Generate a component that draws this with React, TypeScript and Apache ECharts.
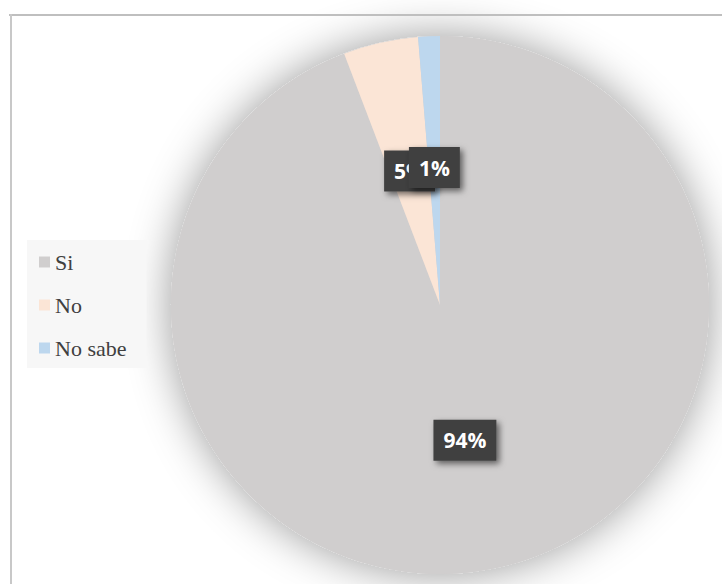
import React, { useEffect, useRef } from "react";
import * as echarts from "echarts";

const categories = ["Si", "No", "No sabe"];
const values = [94.2, 4.5, 1.3];
const colors = ["#d0cece", "#fbe5d6", "#bdd7ee"];

export default function App() {
  const ref = useRef<HTMLDivElement>(null);
  useEffect(() => {
    if (!ref.current) return;
    const chart = echarts.init(ref.current, undefined, { renderer: "svg" });
    const data = categories.map((name, i) => ({
      name,
      value: values[i],
      itemStyle: { color: colors[i] },
    }));
    chart.setOption({
      animation: false,
      backgroundColor: "#ffffff",
      legend: {
        data: categories,
        orient: "vertical",
        left: 27,
        top: 240,
        backgroundColor: "#f7f7f7",
        padding: [11, 20, 9, 12],
        itemWidth: 11,
        itemHeight: 11,
        itemGap: 21,
        icon: "rect",
        selectedMode: false,
        textStyle: {
          fontFamily: "Liberation Serif",
          fontSize: 22,
          color: "#404040",
          padding: [0, 0, 0, 0],
        },
      },
      graphic: [
        {
          type: "line",
          shape: { x1: 9, y1: 15, x2: 722, y2: 15 },
          style: { stroke: "#bfbfbf", lineWidth: 2 },
          z: 10,
        },
        {
          type: "line",
          shape: { x1: 11, y1: 14, x2: 11, y2: 584 },
          style: { stroke: "#c8c8c8", lineWidth: 2 },
          z: 10,
        },
      ],
      series: [
        {
          type: "pie",
          silent: true,
          center: [440, 305],
          radius: 269,
          z: 1,
          label: { show: false },
          labelLine: { show: false },
          emphasis: { disabled: true },
          data: [
            {
              name: "shadow",
              value: 1,
              itemStyle: {
                color: "#d0cece",
                shadowBlur: 45,
                shadowColor: "rgba(0,0,0,0.4)",
              },
            },
          ],
        },
        {
          type: "pie",
          center: [440, 305],
          radius: 269,
          startAngle: 90,
          clockwise: true,
          z: 2,
          avoidLabelOverlap: false,
          labelLayout: { hideOverlap: false },
          emphasis: { disabled: true },
          itemStyle: { borderWidth: 0 },
          labelLine: { show: false },
          label: {
            show: true,
            position: "inside",
            formatter: (p: any) => Math.round(p.percent) + "%",
            fontFamily: "Open Sans",
            fontWeight: "bold",
            fontSize: 21,
            color: "#ffffff",
            backgroundColor: "#404040",
            padding: [10, 10, 10, 10],
            shadowColor: "rgba(0,0,0,0.55)",
            shadowBlur: 6,
            shadowOffsetX: 3,
            shadowOffsetY: 3,
          },
          data,
        },
      ],
    });
    return () => chart.dispose();
  }, []);
  return (
    <div
      ref={ref}
      style={{ position: "absolute", left: 0, top: 0, width: 722, height: 584 }}
    />
  );
}
